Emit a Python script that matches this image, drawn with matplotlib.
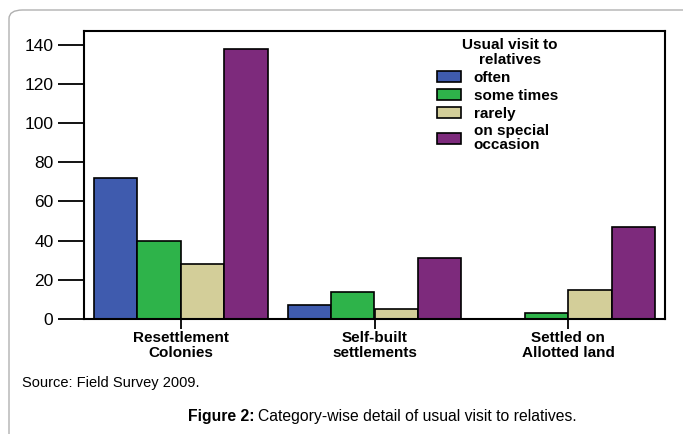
import matplotlib
matplotlib.use("Agg")
import matplotlib.pyplot as plt
import numpy as np
from matplotlib.patches import FancyBboxPatch

plt.rcParams['font.family'] = ['Liberation Sans', 'DejaVu Sans']

# data
categories = ["Resettlement\nColonies", "Self-built\nsettlements", "Settled on\nAllotted land"]
series_names = ["often", "some times", "rarely", "on special\noccasion"]
often = [72, 7, 0]
some_times = [40, 14, 3]
rarely = [28, 5, 15]
special = [138, 31, 47]
colors = ["#3F5BAE", "#2EB34A", "#D3CE99", "#7D2A7C"]

fig = plt.figure(figsize=(6.83, 4.34), dpi=100)
W, H = 683, 434

# light rounded frame around the figure
frame = FancyBboxPatch((9 / W, -0.2), 1.2, 0.2 + 1 - 10 / H,
                       boxstyle="round,pad=0,rounding_size=0.02",
                       transform=fig.transFigure, fill=False,
                       edgecolor="#b0b0b0", linewidth=1.0)
fig.patches.append(frame)

ax = fig.add_axes([84 / W, 1 - 319 / H, (665 - 84) / W, (319 - 31) / H])

x = np.arange(len(categories))
bw = 0.224
all_series = [often, some_times, rarely, special]
for i, vals in enumerate(all_series):
    offs = (i - 1.5) * bw
    vals = np.array(vals, dtype=float)
    keep = vals > 0
    ax.bar(x[keep] + offs, vals[keep], width=bw, color=colors[i],
           edgecolor="black", linewidth=1.2, label=series_names[i])

ax.set_xlim(-0.5, 2.5)
ax.set_ylim(0, 147)
ax.set_yticks(np.arange(0, 141, 20))
ax.set_xticks(x)
ax.set_xticklabels(categories, fontweight="bold", fontsize=11, linespacing=1.05)
ax.tick_params(axis="y", length=19, width=1.3, labelsize=12.5, pad=3)
ax.tick_params(axis="x", length=7, width=1.3, pad=2)
for s in ax.spines.values():
    s.set_linewidth(1.5)

leg = ax.legend(loc="upper left", bbox_to_anchor=(437 / W, 1 - 38 / H),
                bbox_transform=fig.transFigure, frameon=False,
                title="Usual visit to\nrelatives",
                prop={"weight": "bold", "size": 11},
                title_fontproperties={"weight": "bold", "size": 11},
                handlelength=1.6, handleheight=0.7, handletextpad=0.8,
                labelspacing=0.25, borderpad=0, borderaxespad=0)
leg._legend_box.align = "right"
leg.get_title().set_linespacing(1.1)
leg.get_title().set_multialignment("center")
for t in leg.get_texts():
    t.set_linespacing(1.0)

fig.text(22 / W, 1 - 383 / H, "Source: Field Survey 2009.", fontsize=10.5,
         va="center", ha="left")

# caption: bold lead-in followed by regular text
fig.canvas.draw()
r = fig.canvas.get_renderer()
t1 = fig.text(188 / W, 1 - 416 / H, "Figure 2:", fontsize=11.3,
              fontweight="bold", va="center", ha="left")
bb = t1.get_window_extent(renderer=r)
fig.text(bb.x1 / W + 4 / W, 1 - 416 / H,
         "Category-wise detail of usual visit to relatives.",
         fontsize=11.3, va="center", ha="left")

fig.savefig("out.png", dpi=100)
